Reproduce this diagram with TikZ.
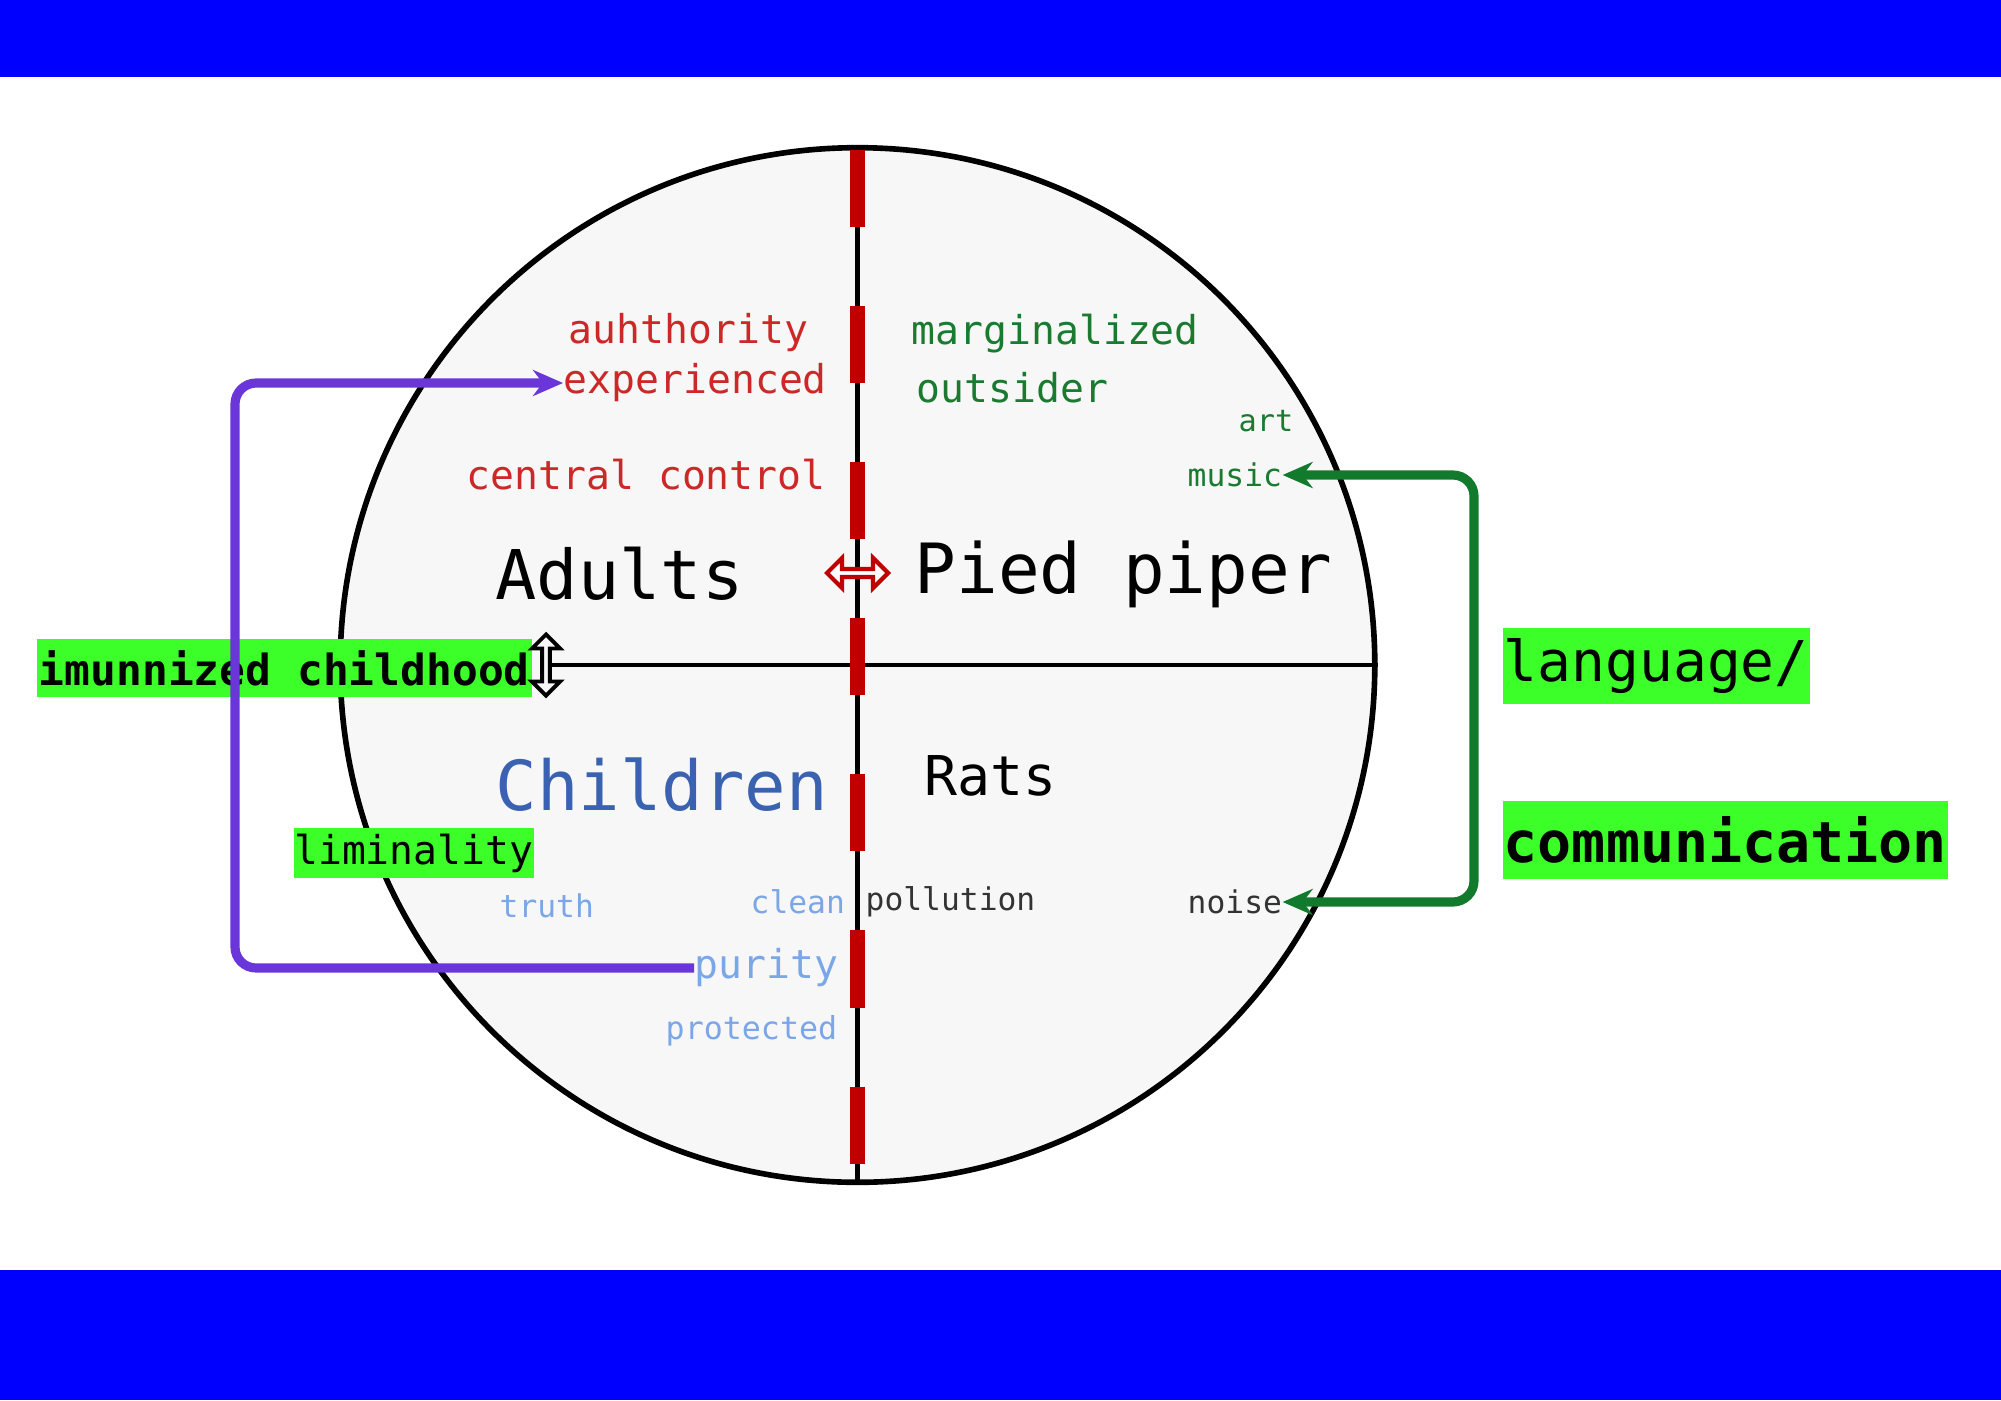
\documentclass[tikz,border=0pt]{standalone}
\usepackage{fontspec}
\setmonofont{DejaVu Sans Mono}
\usetikzlibrary{shapes.arrows,arrows.meta}
\definecolor{bandblue}{HTML}{0000FF}
\definecolor{hl}{HTML}{3CFF2A}
\definecolor{tred}{HTML}{CC2828}
\definecolor{dred}{HTML}{C00000}
\definecolor{tgreen}{HTML}{1A7A30}
\definecolor{lblue}{HTML}{7BA6E8}
\definecolor{cblue}{HTML}{3A62B0}
\definecolor{purp}{HTML}{6A35D9}
\definecolor{cgreen}{HTML}{127A2C}
\definecolor{cfill}{HTML}{F7F7F7}
\begin{document}
\begin{tikzpicture}[x=0.01cm,y=-0.01cm,
  lbl/.style={inner sep=0pt,anchor=west,font=\ttfamily},
  hlbox/.style={fill=hl,inner sep=0pt,anchor=west,font=\ttfamily}]
\useasboundingbox (0,0) rectangle (2001,1400);
\fill[bandblue] (0,0) rectangle (2001,77);
\fill[bandblue] (0,1270) rectangle (2001,1400);
\node[circle,draw=black,line width=1.6pt,fill=cfill,minimum size=10.34cm,inner sep=0pt] (c) at (857.5,665) {};
\coordinate (ctop) at (857.5,148);
\coordinate (cbot) at (857.5,1182);
\coordinate (hl0) at (546,665);
\draw[line width=1.2pt] (ctop) -- (cbot);
\draw[line width=1.2pt] (hl0) -- (c.east);
\draw[dred,line width=0.15cm,dash pattern=on 0.77cm off 0.79cm] (857.5,150) -- (cbot);
% texts
\node[lbl,text=tred,font=\ttfamily\fontsize{11.3}{13}\selectfont] (auth) at (568,333) {auhthority};
\node[lbl,text=tred,font=\ttfamily\fontsize{11.3}{13}\selectfont] (exp) at (563,383) {experienced};
\node[lbl,text=tred,font=\ttfamily\fontsize{11.3}{13}\selectfont] (cc) at (466,475) {central control};
\node[lbl,font=\ttfamily\fontsize{19.5}{22}\selectfont] (adults) at (495,574) {Adults};
\node[lbl,font=\ttfamily\fontsize{19.7}{22}\selectfont] (pied) at (914,574) {Pied piper};
\node[lbl,text=tgreen,font=\ttfamily\fontsize{11.3}{13}\selectfont] (marg) at (911,334) {marginalized};
\node[lbl,text=tgreen,font=\ttfamily\fontsize{11.3}{13}\selectfont] (outs) at (916,388) {outsider};
\node[lbl,text=tgreen,font=\ttfamily\fontsize{8.6}{10}\selectfont] (art) at (1238,421) {art};
\node[lbl,text=tgreen,font=\ttfamily\fontsize{8.9}{10}\selectfont] (music) at (1187,475) {music};
\node[lbl,text=cblue,font=\ttfamily\fontsize{19.6}{22}\selectfont] (children) at (495,785) {Children};
\node[lbl,font=\ttfamily\fontsize{15.6}{18}\selectfont] (rats) at (924,776) {Rats};
\node[hlbox,minimum width=2.40cm,minimum height=0.49cm,font=\ttfamily\fontsize{11.3}{13}\selectfont] (lim) at (293,853) {liminality};
\node[lbl,text=lblue,font=\ttfamily\fontsize{8.9}{10}\selectfont] (truth) at (499,906) {truth};
\node[lbl,text=lblue,font=\ttfamily\fontsize{8.9}{10}\selectfont] (clean) at (750,902) {clean};
\node[lbl,text=black!80,font=\ttfamily\fontsize{8.9}{10}\selectfont] (poll) at (865,902) {pollution};
\node[lbl,text=black!80,font=\ttfamily\fontsize{8.9}{10}\selectfont] (noise) at (1187,902) {noise};
\node[lbl,text=lblue,font=\ttfamily\fontsize{11.3}{13}\selectfont] (purity) at (694,968) {purity};
\node[lbl,text=lblue,font=\ttfamily\fontsize{9}{10}\selectfont] (prot) at (665,1031) {protected};
\node[hlbox,minimum width=4.95cm,minimum height=0.58cm,font=\ttfamily\bfseries\fontsize{12.2}{14}\selectfont] (imm) at (36,668) {imunnized childhood};
\node[hlbox,minimum width=3.07cm,minimum height=0.76cm,font=\ttfamily\fontsize{16}{19}\selectfont] (lang) at (1502,666) {language/};
\node[hlbox,minimum width=4.45cm,minimum height=0.77cm,font=\ttfamily\bfseries\fontsize{16.1}{19}\selectfont] (comm) at (1502,840) {communication};
% double arrows
\node[double arrow,draw=dred,fill=white,line width=1.2pt,minimum height=0.61cm,minimum width=0.30cm,double arrow head extend=0.06cm,inner sep=0pt] (da1) at (857.5,573) {};
\node[double arrow,rotate=90,draw=black,fill=cfill,line width=1.1pt,minimum height=0.61cm,minimum width=0.28cm,double arrow head extend=0.05cm,inner sep=0pt] (da2) at (546,665) {};
% connectors
\coordinate (pL) at (235,0);
\coordinate (gR) at (1474,0);
\draw[purp,line width=2.6pt,rounded corners=6pt,-{Stealth[length=0.3cm,width=0.26cm]}]
  (purity.west) -- (purity.west -| pL) -- (exp.west -| pL) -- (exp.west);
\draw[cgreen,line width=2.6pt,rounded corners=6pt,{Stealth[length=0.3cm,width=0.26cm]}-{Stealth[length=0.3cm,width=0.26cm]}]
  (music.east) -- (music.east -| gR) -- (noise.east -| gR) -- (noise.east);
\end{tikzpicture}
\end{document}
